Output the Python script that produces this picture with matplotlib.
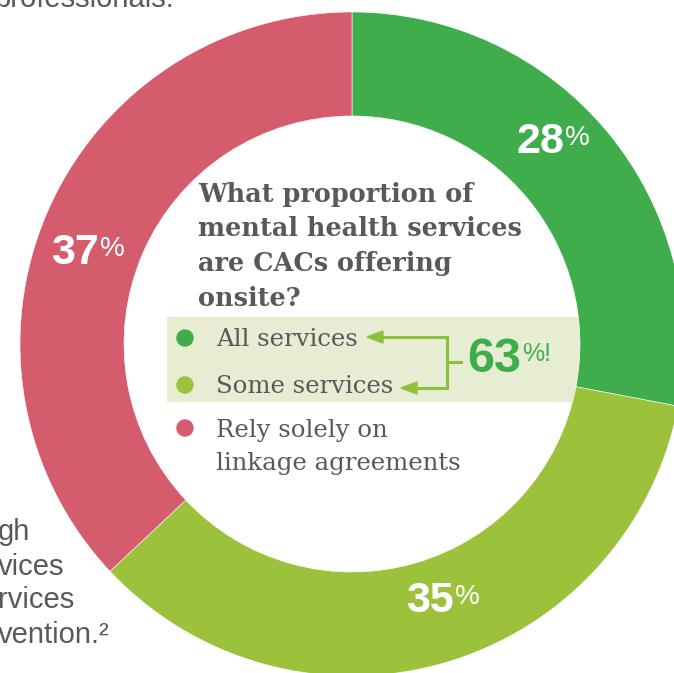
import matplotlib.pyplot as plt
from matplotlib.patches import Rectangle, Circle, Polygon

# data
labels = ['All services', 'Some services', 'Rely solely on\nlinkage agreements']
shares = [28, 35, 37]
colors = ['#40ad4c', '#9cc23c', '#d45c6d']
combined = 63
question = ['What proportion of', 'mental health services', 'are CACs offering', 'onsite?']

W, H = 674, 673
gray = '#58595b'
arrow_green = '#8dc03f'

fig = plt.figure(figsize=(W / 100, H / 100), dpi=100)
ax = fig.add_axes([0, 0, 1, 1])

def Y(y):
    # pixel row (from top) -> data y
    return H - y

cx, cy = 352, 344
r_out, r_in = 332, 228

# light box behind the two "onsite" rows
ax.add_patch(Rectangle((167, Y(402)), 413, 85, facecolor='#e6edd3',
                       edgecolor='none', zorder=0))

ax.pie(shares, colors=colors, startangle=90, counterclock=False,
       center=(cx, Y(cy)), radius=r_out,
       wedgeprops=dict(width=r_out - r_in, edgecolor='white', linewidth=0.4))

# percent labels on the ring
pct_pos = [(540, 142), (430, 601), (75, 253)]
for (x, y), v in zip(pct_pos, shares):
    t = ax.text(x, Y(y), str(v), color='white', fontsize=31, fontweight='bold',
                family='Liberation Sans', ha='center', va='center')
    ax.annotate('%', xy=(1, 1), xycoords=t, xytext=(1, -2), textcoords='offset points',
                color='white', fontsize=20, family='Liberation Sans', va='top', ha='left')

# question, one line at a time
for i, line in enumerate(question):
    ax.text(198, Y(202 + 34.5 * i), line, color=gray, fontsize=18.4, fontweight='bold',
            family='DejaVu Serif', ha='left', va='baseline')

# legend rows
dot_y = [338, 385, 428]
text_y = [346, 393, 437]
for c, lab, dy, ty in zip(colors, labels, dot_y, text_y):
    ax.add_patch(Circle((185, Y(dy)), 8, color=c, zorder=3))
    for j, part in enumerate(lab.split('\n')):
        ax.text(216, Y(ty + 33 * j), part, color=gray, fontsize=17.6,
                family='DejaVu Serif', ha='left', va='baseline')

# bracket arrows
lw = 2.2
ax.plot([380, 447, 447, 414], [Y(337), Y(337), Y(388), Y(388)],
        color=arrow_green, lw=lw, solid_joinstyle='miter')
ax.plot([447, 461], [Y(362), Y(362)], color=arrow_green, lw=lw)
ax.add_patch(Polygon([(367, Y(337)), (383, Y(331)), (383, Y(343))], color=arrow_green))
ax.add_patch(Polygon([(401, Y(388)), (417, Y(382)), (417, Y(394))], color=arrow_green))

t63 = ax.text(467, Y(360), str(combined), color='#40ad4c', fontsize=35,
              fontweight='bold', family='Liberation Sans', ha='left', va='center')
ax.annotate('%!', xy=(1, 1), xycoords=t63, xytext=(1, -3), textcoords='offset points',
            color='#40ad4c', fontsize=18, family='Liberation Sans', va='top', ha='left')

# cropped body text around the chart
ax.text(-6, Y(7), 'professionals.', color=gray, fontsize=21,
        family='Liberation Sans', ha='left', va='baseline')
frag = ['gh', 'vices', 'rvices', 'vention.\u00b2']
frag_y = [532, 567, 600, 635]
for s, y in zip(frag, frag_y):
    ax.text(-2, Y(y), s, color=gray, fontsize=21, family='Liberation Sans',
            ha='left', va='center')

ax.set_xlim(0, W)
ax.set_ylim(0, H)
ax.set_aspect('auto')
ax.axis('off')

fig.savefig('out.png', dpi=100)
